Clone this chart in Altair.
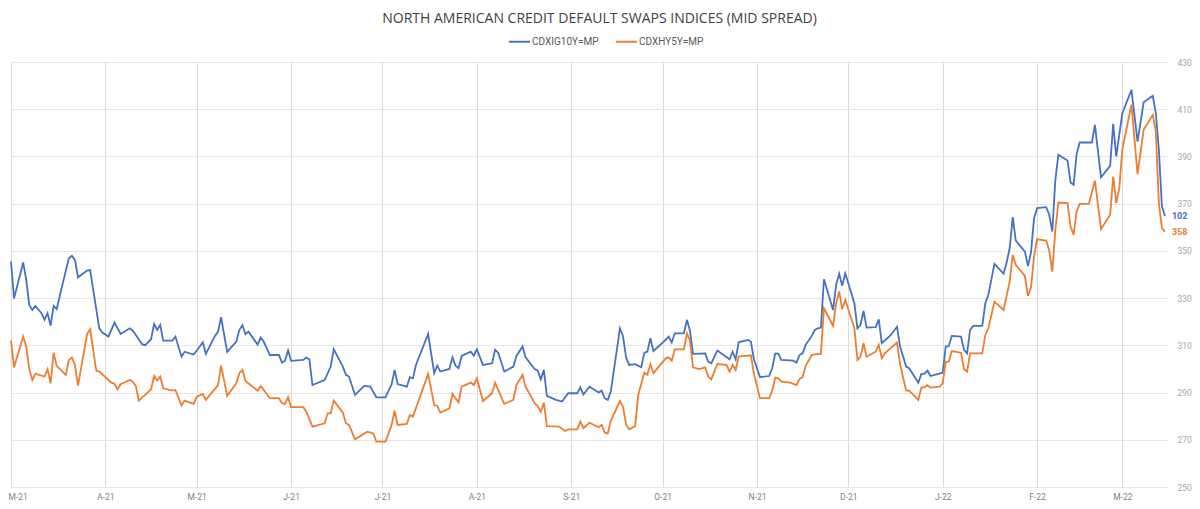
import altair as alt
import pandas as pd

# values (vertices of each line)
ig_dates = [
    "2021-03-01", "2021-03-02", "2021-03-05", "2021-03-06", "2021-03-07", "2021-03-08",
    "2021-03-09", "2021-03-11", "2021-03-12", "2021-03-13", "2021-03-14", "2021-03-15",
    "2021-03-16", "2021-03-18", "2021-03-20", "2021-03-21", "2021-03-22", "2021-03-23",
    "2021-03-26", "2021-03-27", "2021-03-28", "2021-03-30", "2021-03-31", "2021-04-02",
    "2021-04-04", "2021-04-06", "2021-04-09", "2021-04-10", "2021-04-11", "2021-04-13",
    "2021-04-14", "2021-04-16", "2021-04-17", "2021-04-18", "2021-04-19", "2021-04-20",
    "2021-04-23", "2021-04-24", "2021-04-26", "2021-04-27", "2021-04-30", "2021-05-02",
    "2021-05-03", "2021-05-04", "2021-05-07", "2021-05-08", "2021-05-09", "2021-05-11",
    "2021-05-14", "2021-05-15", "2021-05-16", "2021-05-17", "2021-05-18", "2021-05-21",
    "2021-05-22", "2021-05-23", "2021-05-25", "2021-05-28", "2021-05-29", "2021-05-30",
    "2021-05-31", "2021-06-01", "2021-06-05", "2021-06-06", "2021-06-07", "2021-06-08",
    "2021-06-12", "2021-06-14", "2021-06-15", "2021-06-18", "2021-06-19", "2021-06-20",
    "2021-06-22", "2021-06-25", "2021-06-27", "2021-06-29", "2021-07-02", "2021-07-04",
    "2021-07-05", "2021-07-06", "2021-07-09", "2021-07-10", "2021-07-11", "2021-07-12",
    "2021-07-16", "2021-07-18", "2021-07-19", "2021-07-20", "2021-07-23", "2021-07-24",
    "2021-07-25", "2021-07-26", "2021-07-27", "2021-07-30", "2021-07-31", "2021-08-01",
    "2021-08-03", "2021-08-06", "2021-08-07", "2021-08-08", "2021-08-10", "2021-08-13",
    "2021-08-14", "2021-08-16", "2021-08-17", "2021-08-20", "2021-08-21", "2021-08-22",
    "2021-08-23", "2021-08-24", "2021-08-27", "2021-08-29", "2021-08-31", "2021-09-03",
    "2021-09-04", "2021-09-05", "2021-09-07", "2021-09-10", "2021-09-11", "2021-09-12",
    "2021-09-13", "2021-09-14", "2021-09-17", "2021-09-18", "2021-09-19", "2021-09-20",
    "2021-09-22", "2021-09-24", "2021-09-25", "2021-09-26", "2021-09-27", "2021-09-28",
    "2021-10-02", "2021-10-03", "2021-10-04", "2021-10-05", "2021-10-08", "2021-10-09",
    "2021-10-10", "2021-10-11", "2021-10-15", "2021-10-16", "2021-10-17", "2021-10-19",
    "2021-10-23", "2021-10-24", "2021-10-25", "2021-10-26", "2021-10-29", "2021-10-30",
    "2021-10-31", "2021-11-02", "2021-11-05", "2021-11-06", "2021-11-07", "2021-11-08",
    "2021-11-09", "2021-11-13", "2021-11-14", "2021-11-15", "2021-11-16", "2021-11-17",
    "2021-11-19", "2021-11-20", "2021-11-21", "2021-11-22", "2021-11-23", "2021-11-26",
    "2021-11-27", "2021-11-28", "2021-11-29", "2021-11-30", "2021-12-03", "2021-12-04",
    "2021-12-05", "2021-12-06", "2021-12-07", "2021-12-10", "2021-12-11", "2021-12-12",
    "2021-12-15", "2021-12-17", "2021-12-18", "2021-12-20", "2021-12-21", "2021-12-24",
    "2021-12-25", "2021-12-26", "2021-12-27", "2021-12-28", "2022-01-01", "2022-01-02",
    "2022-01-03", "2022-01-04", "2022-01-07", "2022-01-08", "2022-01-09", "2022-01-10",
    "2022-01-11", "2022-01-14", "2022-01-15", "2022-01-16", "2022-01-18", "2022-01-21",
    "2022-01-22", "2022-01-23", "2022-01-24", "2022-01-25", "2022-01-28", "2022-01-29",
    "2022-01-30", "2022-01-31", "2022-02-01", "2022-02-04", "2022-02-05", "2022-02-06",
    "2022-02-07", "2022-02-08", "2022-02-11", "2022-02-12", "2022-02-13", "2022-02-14",
    "2022-02-15", "2022-02-19", "2022-02-20", "2022-02-22", "2022-02-25", "2022-02-26",
    "2022-02-27", "2022-03-01", "2022-03-04", "2022-03-06", "2022-03-08", "2022-03-11",
    "2022-03-12", "2022-03-13", "2022-03-14", "2022-03-15",
]
ig_values = [
    345.5, 329.9, 345.1, 337.7, 327.1, 325.0,
    326.7, 323.6, 320.8, 323.6, 318.4, 326.7,
    325.3, 336.3, 346.9, 347.9, 346.2, 338.8,
    341.7, 341.9, 333.5, 317.2, 315.4, 313.7,
    319.6, 314.8, 317.2, 316.2, 314.4, 310.6,
    310.0, 312.6, 319.1, 316.5, 318.6, 312.0,
    312.0, 313.7, 305.2, 307.3, 306.1, 309.5,
    311.3, 306.4, 314.0, 315.8, 321.9, 307.2,
    311.6, 316.5, 318.6, 314.7, 315.8, 310.3,
    313.3, 311.6, 305.9, 305.9, 302.7, 303.5,
    307.8, 303.4, 303.8, 304.8, 304.1, 293.2,
    295.3, 301.0, 308.3, 301.0, 297.5, 296.8,
    289.0, 292.8, 292.5, 288.0, 288.0, 293.5,
    299.6, 293.6, 292.5, 296.5, 296.0, 301.7,
    314.8, 298.2, 301.4, 298.9, 300.0, 304.9,
    301.4, 300.3, 305.5, 307.3, 305.6, 308.3,
    301.7, 302.4, 308.1, 306.9, 298.9, 301.0,
    305.5, 309.5, 304.9, 300.0, 299.3, 295.6,
    299.6, 288.6, 286.9, 286.2, 289.7, 289.7,
    292.2, 289.2, 292.5, 290.0, 290.8, 287.6,
    286.9, 290.4, 317.2, 314.0, 304.9, 301.7,
    302.0, 300.7, 306.9, 307.3, 313.0, 307.6,
    312.3, 313.7, 311.2, 315.1, 315.1, 320.8,
    316.2, 306.4, 306.6, 303.1, 302.4, 307.8,
    304.1, 307.3, 304.1, 311.3, 312.3, 311.6,
    304.1, 296.5, 297.0, 300.3, 306.6, 306.5,
    303.8, 303.5, 302.7, 305.9, 306.6, 310.2,
    314.0, 316.5, 317.2, 317.5, 338.0, 325.0,
    335.6, 340.3, 335.2, 340.5, 327.8, 317.2,
    318.6, 324.6, 317.5, 317.7, 321.0, 310.9,
    314.4, 317.9, 309.5, 301.0, 300.3, 294.2,
    297.9, 297.9, 299.3, 297.0, 298.4, 309.5,
    309.7, 314.0, 313.7, 308.1, 306.6, 316.5,
    318.2, 318.2, 327.8, 331.4, 344.5, 340.3,
    345.1, 351.1, 364.3, 354.4, 349.7, 343.6,
    349.3, 363.8, 368.1, 368.5, 365.3, 358.2,
    380.1, 390.7, 388.3, 379.0, 378.0, 391.1,
    395.9, 395.9, 403.4, 381.2, 386.0, 403.8,
    390.0, 408.3, 418.2, 396.3, 412.9, 415.7,
    408.3, 392.8, 368.8, 364.8,
]

hy_dates = [
    "2021-03-01", "2021-03-02", "2021-03-05", "2021-03-06", "2021-03-07", "2021-03-08",
    "2021-03-09", "2021-03-12", "2021-03-13", "2021-03-14", "2021-03-15", "2021-03-16",
    "2021-03-19", "2021-03-20", "2021-03-21", "2021-03-22", "2021-03-23", "2021-03-26",
    "2021-03-27", "2021-03-29", "2021-03-30", "2021-04-03", "2021-04-04", "2021-04-05",
    "2021-04-06", "2021-04-09", "2021-04-10", "2021-04-11", "2021-04-12", "2021-04-16",
    "2021-04-17", "2021-04-18", "2021-04-19", "2021-04-20", "2021-04-23", "2021-04-24",
    "2021-04-26", "2021-04-27", "2021-04-30", "2021-05-01", "2021-05-03", "2021-05-04",
    "2021-05-08", "2021-05-09", "2021-05-11", "2021-05-14", "2021-05-15", "2021-05-16",
    "2021-05-17", "2021-05-21", "2021-05-22", "2021-05-24", "2021-05-25", "2021-05-28",
    "2021-05-29", "2021-05-30", "2021-05-31", "2021-06-01", "2021-06-05", "2021-06-06",
    "2021-06-08", "2021-06-12", "2021-06-13", "2021-06-14", "2021-06-15", "2021-06-18",
    "2021-06-19", "2021-06-20", "2021-06-22", "2021-06-26", "2021-06-28", "2021-06-29",
    "2021-07-02", "2021-07-03", "2021-07-04", "2021-07-05", "2021-07-06", "2021-07-09",
    "2021-07-10", "2021-07-11", "2021-07-16", "2021-07-18", "2021-07-19", "2021-07-20",
    "2021-07-23", "2021-07-24", "2021-07-25", "2021-07-26", "2021-07-27", "2021-07-30",
    "2021-07-31", "2021-08-01", "2021-08-03", "2021-08-06", "2021-08-07", "2021-08-10",
    "2021-08-13", "2021-08-14", "2021-08-16", "2021-08-17", "2021-08-20", "2021-08-21",
    "2021-08-22", "2021-08-23", "2021-08-24", "2021-08-28", "2021-08-30", "2021-08-31",
    "2021-09-03", "2021-09-04", "2021-09-05", "2021-09-07", "2021-09-10", "2021-09-11",
    "2021-09-12", "2021-09-13", "2021-09-14", "2021-09-17", "2021-09-18", "2021-09-19",
    "2021-09-20", "2021-09-22", "2021-09-23", "2021-09-25", "2021-09-26", "2021-09-27",
    "2021-09-28", "2021-10-02", "2021-10-03", "2021-10-04", "2021-10-05", "2021-10-08",
    "2021-10-09", "2021-10-10", "2021-10-11", "2021-10-13", "2021-10-15", "2021-10-16",
    "2021-10-17", "2021-10-19", "2021-10-22", "2021-10-23", "2021-10-24", "2021-10-25",
    "2021-10-26", "2021-10-30", "2021-10-31", "2021-11-02", "2021-11-05", "2021-11-06",
    "2021-11-07", "2021-11-08", "2021-11-09", "2021-11-12", "2021-11-14", "2021-11-15",
    "2021-11-16", "2021-11-17", "2021-11-19", "2021-11-20", "2021-11-22", "2021-11-23",
    "2021-11-26", "2021-11-27", "2021-11-28", "2021-11-29", "2021-11-30", "2021-12-03",
    "2021-12-04", "2021-12-05", "2021-12-06", "2021-12-07", "2021-12-10", "2021-12-11",
    "2021-12-12", "2021-12-13", "2021-12-17", "2021-12-18", "2021-12-20", "2021-12-21",
    "2021-12-24", "2021-12-25", "2021-12-26", "2021-12-27", "2021-12-28", "2021-12-31",
    "2022-01-01", "2022-01-02", "2022-01-03", "2022-01-04", "2022-01-07", "2022-01-08",
    "2022-01-09", "2022-01-10", "2022-01-14", "2022-01-15", "2022-01-16", "2022-01-18",
    "2022-01-21", "2022-01-23", "2022-01-24", "2022-01-25", "2022-01-28", "2022-01-29",
    "2022-01-30", "2022-01-31", "2022-02-01", "2022-02-04", "2022-02-05", "2022-02-06",
    "2022-02-07", "2022-02-08", "2022-02-11", "2022-02-12", "2022-02-13", "2022-02-14",
    "2022-02-15", "2022-02-18", "2022-02-20", "2022-02-22", "2022-02-25", "2022-02-26",
    "2022-02-27", "2022-02-28", "2022-03-01", "2022-03-04", "2022-03-06", "2022-03-08",
    "2022-03-11", "2022-03-12", "2022-03-13", "2022-03-14", "2022-03-15",
]
hy_values = [
    312.0, 300.7, 313.7, 309.5, 299.9, 295.3,
    297.9, 296.8, 299.9, 293.9, 306.9, 301.3,
    297.5, 303.8, 304.9, 301.7, 292.9, 314.8,
    316.8, 299.3, 298.9, 294.2, 293.6, 291.4,
    293.5, 295.3, 294.6, 292.8, 286.6, 291.4,
    297.0, 295.1, 296.8, 291.8, 290.8, 291.1,
    284.5, 286.6, 285.2, 288.3, 289.4, 286.9,
    293.2, 301.4, 288.6, 293.9, 298.2, 299.6,
    294.9, 290.8, 292.8, 289.4, 287.6, 287.6,
    285.5, 285.2, 288.0, 283.8, 283.8, 281.9,
    275.6, 277.0, 281.2, 281.2, 286.6, 281.5,
    277.0, 276.3, 270.2, 273.4, 272.7, 269.2,
    269.2, 272.7, 276.3, 282.3, 276.3, 276.7,
    280.5, 279.8, 297.9, 284.7, 284.3, 281.5,
    283.3, 289.4, 287.6, 285.9, 292.5, 294.2,
    293.2, 296.0, 286.4, 289.7, 294.2, 285.2,
    286.9, 293.2, 297.5, 292.5, 285.5, 284.3,
    281.9, 285.7, 275.8, 275.6, 273.7, 274.4,
    274.4, 277.7, 274.9, 277.2, 275.3, 276.3,
    273.0, 272.7, 278.0, 286.4, 284.0, 276.6,
    274.4, 275.8, 289.0, 298.4, 297.5, 302.0,
    298.2, 304.5, 304.9, 303.5, 308.3, 308.3,
    315.1, 312.0, 300.7, 299.9, 300.7, 296.8,
    295.6, 302.1, 301.7, 298.9, 301.7, 299.6,
    305.2, 305.8, 297.9, 287.6, 287.6, 290.8,
    296.3, 296.0, 294.6, 294.2, 293.2, 295.8,
    296.5, 301.3, 305.9, 306.2, 306.4, 325.7,
    318.2, 327.8, 332.8, 325.3, 329.2, 317.2,
    303.8, 305.2, 310.9, 305.2, 307.3, 310.2,
    304.5, 306.6, 311.2, 302.1, 290.8, 290.8,
    286.9, 292.2, 292.2, 293.1, 292.1, 292.5,
    293.9, 303.1, 303.1, 307.6, 306.9, 299.9,
    298.9, 306.6, 306.6, 314.4, 317.2, 328.5,
    325.0, 337.0, 348.3, 344.1, 339.4, 330.9,
    334.5, 347.6, 354.9, 354.4, 350.1, 341.2,
    358.9, 370.5, 370.2, 360.3, 356.8, 366.7,
    369.9, 369.9, 379.8, 359.2, 365.3, 381.5,
    370.2, 376.6, 393.1, 411.9, 382.5, 401.3,
    407.6, 400.6, 370.2, 359.6, 358.2,
]

series_names = ["CDXIG10Y=MP", "CDXHY5Y=MP"]
series_colors = ["#4472C4", "#ED7D31"]
end_labels = ["102", "358"]
month_ticks = [
    "2021-03-01", "2021-04-01", "2021-05-01", "2021-06-01", "2021-07-01",
    "2021-08-01", "2021-09-01", "2021-10-01", "2021-11-01", "2021-12-01",
    "2022-01-01", "2022-02-01", "2022-03-01",
]
x_domain = ["2021-03-01", "2022-03-16"]
y_ticks = list(range(250, 431, 5))


def to_ms(dates):
    return [int(pd.Timestamp(d, tz="UTC").timestamp() * 1000) for d in dates]


df = pd.concat(
    [
        pd.DataFrame({"date": ig_dates, "value": ig_values, "series": series_names[0]}),
        pd.DataFrame({"date": hy_dates, "value": hy_values, "series": series_names[1]}),
    ]
)
last = pd.DataFrame(
    {
        "date": [ig_dates[-1], hy_dates[-1]],
        "value": [ig_values[-1], hy_values[-1]],
        "series": series_names,
        "label": end_labels,
    }
)

x_enc = alt.X(
    "date:T",
    scale=alt.Scale(type="utc", domain=to_ms(x_domain)),
    axis=alt.Axis(
        values=to_ms(month_ticks),
        labelExpr="substring(utcFormat(datum.value, '%b'), 0, 1) + '-' + utcFormat(datum.value, '%y')",
        grid=True,
        gridColor="#d9d9d9",
        domain=False,
        ticks=False,
        labelFlush=1,
        labelFlushOffset=3,
        labelPadding=5,
        labelFontSize=8.5,
        labelColor="#7f7f7f",
        labelFont="Roboto",
        title=None,
    ),
)
y_enc = alt.Y(
    "value:Q",
    scale=alt.Scale(domain=[250, 430], nice=False, zero=False),
    axis=alt.Axis(
        orient="right",
        values=y_ticks,
        labelExpr="(datum.value - 250) % 20 == 0 ? datum.label : ''",
        grid=True,
        gridColor="#e6e6e6",
        domain=False,
        ticks=False,
        labelPadding=9,
        labelFontSize=8.5,
        labelColor="#a6a6a6",
        labelFont="Roboto",
        title=None,
    ),
)
color_enc = alt.Color(
    "series:N",
    scale=alt.Scale(domain=series_names, range=series_colors),
    legend=alt.Legend(
        orient="none",
        legendX=497,
        legendY=-32,
        direction="horizontal",
        title=None,
        symbolType="stroke",
        symbolSize=440,
        symbolStrokeWidth=2,
        labelFontSize=10,
        labelFont="Roboto",
        labelColor="#595959",
        labelOffset=1,
        columnPadding=13,
    ),
)

lines = (
    alt.Chart(df)
    .mark_line(strokeWidth=1.8)
    .encode(x=x_enc, y=y_enc, color=color_enc)
)

labels = (
    alt.Chart(last)
    .mark_text(align="left", baseline="middle", dx=7, fontSize=9, fontWeight="bold", font="Roboto")
    .encode(
        x="date:T",
        y="value:Q",
        text="label:N",
        color=alt.Color("series:N", legend=None),
    )
)

chart = (
    alt.layer(lines, labels)
    .properties(
        width=1157,
        height=425,
        autosize=alt.AutoSizeParams(type="none"),
        padding={"left": 3, "top": 54, "right": 24, "bottom": 14},
        title=alt.TitleParams(
            "NORTH AMERICAN CREDIT DEFAULT SWAPS INDICES (MID SPREAD)",
            anchor="middle",
            font="Open Sans",
            fontSize=14,
            fontWeight="normal",
            color="#404040",
            dx=10,
            offset=4,
            limit=0,
        ),
    )
    .configure_view(stroke=None)
    .configure_title(orient="top")
)

chart.save("out.html", embed_options={"renderer": "svg", "actions": False})
